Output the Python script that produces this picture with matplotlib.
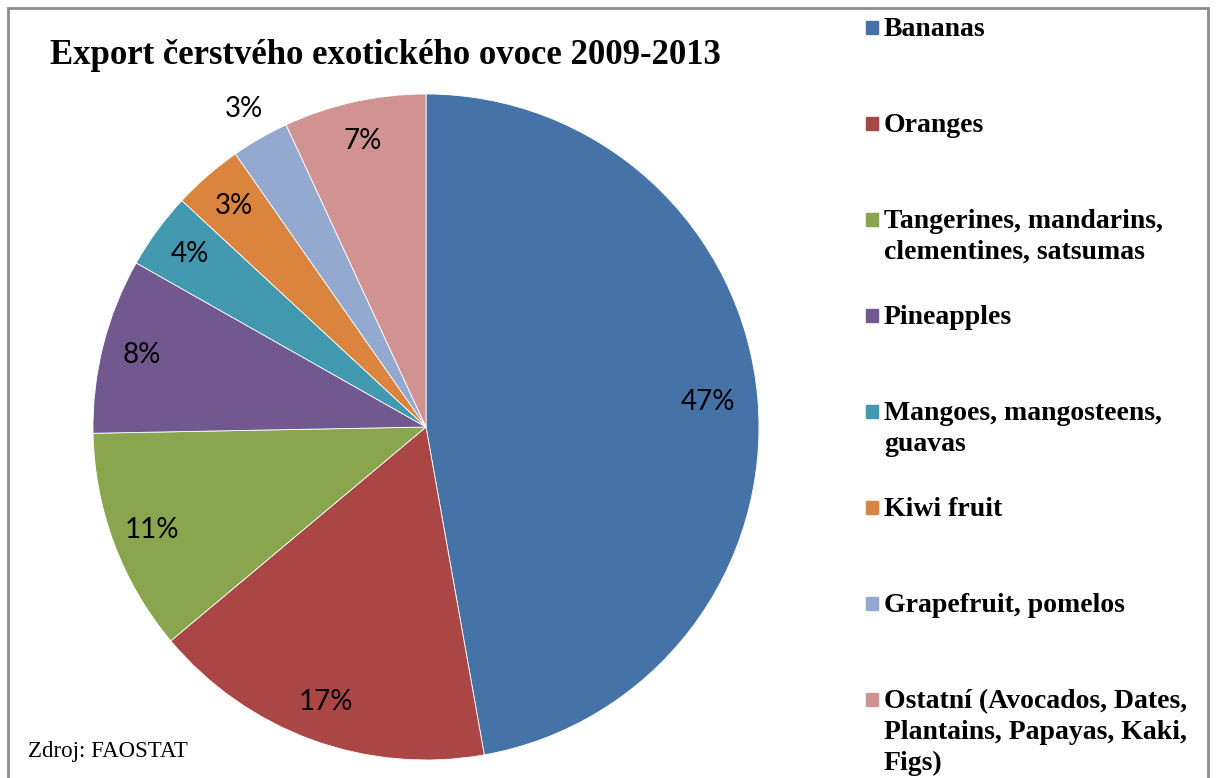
import matplotlib.pyplot as plt
from matplotlib.patches import Rectangle
import numpy as np

labels = ["Bananas", "Oranges", "Tangerines, mandarins,\nclementines, satsumas",
          "Pineapples", "Mangoes, mangosteens,\nguavas", "Kiwi fruit",
          "Grapefruit, pomelos",
          "Ostatní (Avocados, Dates,\nPlantains, Papayas, Kaki,\nFigs)"]
shares = [47.2, 16.7, 10.8, 8.5, 3.7, 3.4, 2.8, 6.9]
colors = ["#4572A7", "#AA4643", "#89A54E", "#71588F",
          "#4198AF", "#DB843D", "#93A9CF", "#D19392"]

W, H = 1218, 778
fig = plt.figure(figsize=(W / 100, H / 100), dpi=100)

# pie centred at (426, 427) px, radius 333 px
cx, cy, r = 426, 427, 333
ax = fig.add_axes([(cx - r) / W, (H - cy - r) / H, 2 * r / W, 2 * r / H])
wedges, texts, autotexts = ax.pie(
    shares, colors=colors, startangle=90, counterclock=False,
    autopct="%.0f%%", pctdistance=0.88, radius=1.0,
    wedgeprops=dict(edgecolor="white", linewidth=0.6),
    textprops=dict(fontfamily="Lato", fontsize=20, color="black"))
ax.set_xlim(-1, 1)
ax.set_ylim(-1, 1)
ax.set_aspect("equal")

# small tweaks of label distances like the original
autotexts[0].set_position(np.array(autotexts[0].get_position()) * 0.85 / 0.88)
autotexts[6].set_position(np.array(autotexts[6].get_position()) * 1.10 / 0.88)

fig.text(50 / W, 1 - 56 / H, "Export čerstvého exotického ovoce 2009-2013",
         fontfamily="Liberation Serif", fontweight="bold", fontsize=25,
         va="center", ha="left")

# legend drawn by hand: first lines evenly spaced, marker at first line
y0, step = 27, 96
for i, (lab, col) in enumerate(zip(labels, colors)):
    y = y0 + i * step
    fig.patches.append(Rectangle((866 / W, 1 - (y + 7) / H), 12 / W, 13 / H,
                                 transform=fig.transFigure, color=col))
    fig.text(884 / W, 1 - (y - 10) / H, lab, fontfamily="Liberation Serif",
             fontweight="bold", fontsize=20, va="top", ha="left",
             linespacing=1.3)

fig.text(28 / W, 1 - 752 / H, "Zdroj: FAOSTAT", fontfamily="Liberation Serif",
         fontsize=16.5, va="center", ha="left")

fig.patches.append(Rectangle((8 / W, -0.02), 1200 / W, 1.02 - 8 / H,
                             transform=fig.transFigure, fill=False,
                             edgecolor="#8c8c8c", linewidth=2))

plt.savefig("out.png", dpi=100)
